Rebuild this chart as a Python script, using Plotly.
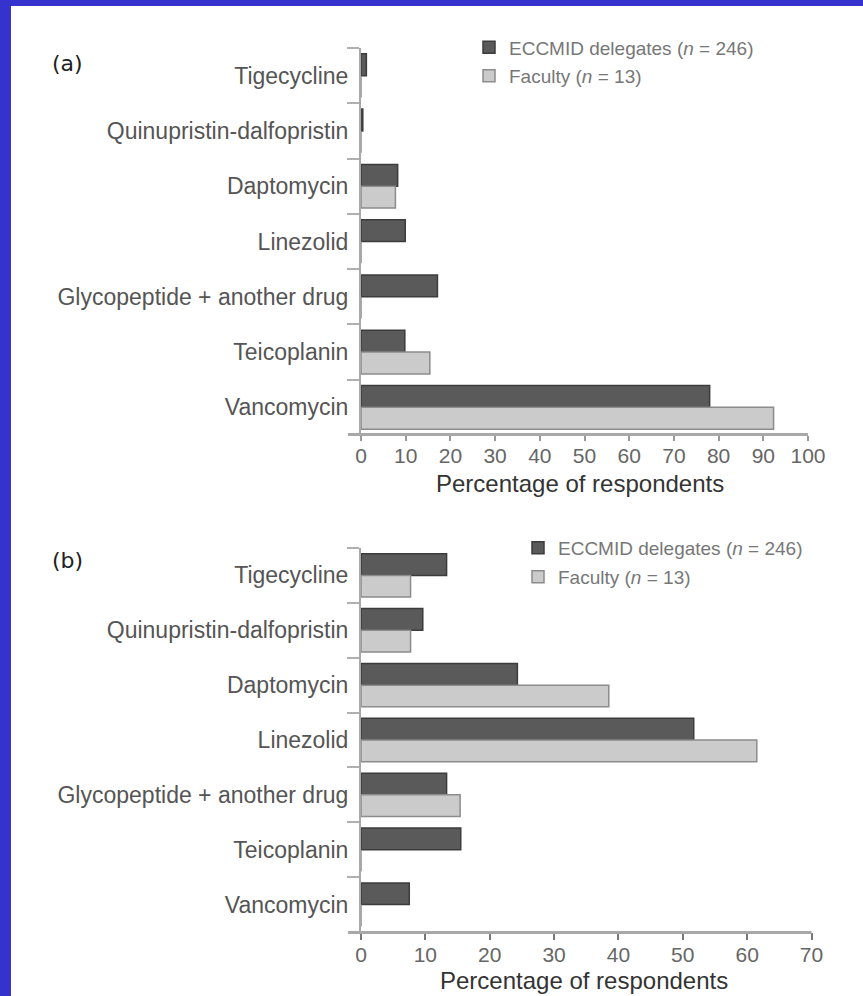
import plotly.graph_objects as go

W, H = 863, 996

categories = ["Tigecycline", "Quinupristin-dalfopristin", "Daptomycin", "Linezolid",
              "Glycopeptide + another drug", "Teicoplanin", "Vancomycin"]

a_eccmid = [1.2, 0.4, 8.2, 9.9, 17.1, 9.8, 78.0]
a_faculty = [0, 0, 7.7, 0, 0, 15.4, 92.3]

b_eccmid = [13.3, 9.6, 24.3, 51.7, 13.3, 15.5, 7.5]
b_faculty = [7.7, 7.7, 38.5, 61.5, 15.4, 0, 0]

a_ticks = [0, 10, 20, 30, 40, 50, 60, 70, 80, 90, 100]
b_ticks = [0, 10, 20, 30, 40, 50, 60, 70]

name_eccmid = "ECCMID delegates (<i>n</i> = 246)"
name_faculty = "Faculty (<i>n</i> = 13)"
xtitle = "Percentage of respondents"

DARK = "#5a5a5a"
DARK_LINE = "#3c3c3c"
LIGHT = "#cbcbcb"
LIGHT_LINE = "#8c8c8c"
FONT = "Liberation Sans, Arial, sans-serif"


def px(x):
    return x / W


def py(y):
    return 1 - y / H


fig = go.Figure()

fig.add_trace(go.Bar(y=categories, x=a_eccmid, orientation="h", name=name_eccmid,
                     marker=dict(color=DARK, line=dict(color=DARK_LINE, width=1.5)),
                     xaxis="x", yaxis="y", legend="legend", showlegend=True))
fig.add_trace(go.Bar(y=categories, x=a_faculty, orientation="h", name=name_faculty,
                     marker=dict(color=LIGHT, line=dict(color=LIGHT_LINE, width=1.5)),
                     xaxis="x", yaxis="y", legend="legend2", showlegend=True))
fig.add_trace(go.Bar(y=categories, x=b_eccmid, orientation="h", name=name_eccmid,
                     marker=dict(color=DARK, line=dict(color=DARK_LINE, width=1.5)),
                     xaxis="x2", yaxis="y2", legend="legend3", showlegend=True))
fig.add_trace(go.Bar(y=categories, x=b_faculty, orientation="h", name=name_faculty,
                     marker=dict(color=LIGHT, line=dict(color=LIGHT_LINE, width=1.5)),
                     xaxis="x2", yaxis="y2", legend="legend4", showlegend=True))

yax = dict(type="category", autorange="reversed", showline=True, linecolor="#a8a8a8",
           linewidth=2, ticks="outside", tickson="boundaries", ticklen=12, tickwidth=2,
           tickcolor="#b0b0b0", showgrid=False, zeroline=False, automargin=False,
           ticklabelstandoff=6,
           tickfont=dict(family=FONT, size=23, color="#555555"))
xax = dict(showline=False, ticks="outside", ticklen=5, tickwidth=1.5, tickcolor="#999999",
           showgrid=False, zeroline=False, automargin=False, ticklabelstandoff=-3,
           tickfont=dict(family=FONT, size=21, color="#666666"))

leg = dict(bgcolor="rgba(0,0,0,0)", font=dict(family=FONT, size=19, color="#777777"),
           xanchor="left", yanchor="middle", borderwidth=0)

fig.update_layout(
    width=W, height=H,
    showlegend=True,
    margin=dict(l=0, r=0, t=0, b=0),
    paper_bgcolor="#3532cd",
    plot_bgcolor="rgba(0,0,0,0)",
    barmode="group", bargap=0.21, bargroupgap=0,
    xaxis=dict(xax, domain=[px(361), px(808)], range=[0, 100], tickvals=a_ticks,
               anchor="y"),
    yaxis=dict(yax, domain=[py(435), py(48)], anchor="x"),
    xaxis2=dict(xax, domain=[px(361), px(811.5)], range=[0, 70], tickvals=b_ticks,
                anchor="y2", ticklen=7, tickwidth=2, tickcolor="#777777"),
    yaxis2=dict(yax, domain=[py(932), py(548)], anchor="x2"),
    legend=dict(leg, x=px(469), y=py(47.5)),
    legend2=dict(leg, x=px(469), y=py(76)),
    legend3=dict(leg, x=px(518), y=py(548)),
    legend4=dict(leg, x=px(518), y=py(577)),
    shapes=[
        dict(type="rect", xref="paper", yref="paper", x0=px(11), x1=1.01, y0=-0.01,
             y1=py(6), fillcolor="white", line=dict(width=0), layer="below"),
        dict(type="line", xref="paper", yref="paper", x0=px(348), x1=px(808),
             y0=py(434.5), y1=py(434.5), line=dict(color="#a8a8a8", width=3)),
        dict(type="line", xref="paper", yref="paper", x0=px(348), x1=px(811.5),
             y0=py(932.5), y1=py(932.5), line=dict(color="#a8a8a8", width=3)),
    ],
    annotations=[
        dict(text="(a)", xref="paper", yref="paper", x=px(50), y=py(63), xanchor="left",
             yanchor="middle", showarrow=False, font=dict(family="DejaVu Sans", size=22, color="#222222")),
        dict(text="(b)", xref="paper", yref="paper", x=px(50), y=py(560), xanchor="left",
             yanchor="middle", showarrow=False, font=dict(family="DejaVu Sans", size=22, color="#222222")),
        dict(text=xtitle, xref="paper", yref="paper", x=px(580), y=py(483), xanchor="center",
             yanchor="middle", showarrow=False, font=dict(family=FONT, size=24, color="#333333")),
        dict(text=xtitle, xref="paper", yref="paper", x=px(584), y=py(980), xanchor="center",
             yanchor="middle", showarrow=False, font=dict(family=FONT, size=24, color="#333333")),
    ],
)

fig.write_html("out.html", config={"displayModeBar": False},
               post_script="document.body.style.margin='0px';")
